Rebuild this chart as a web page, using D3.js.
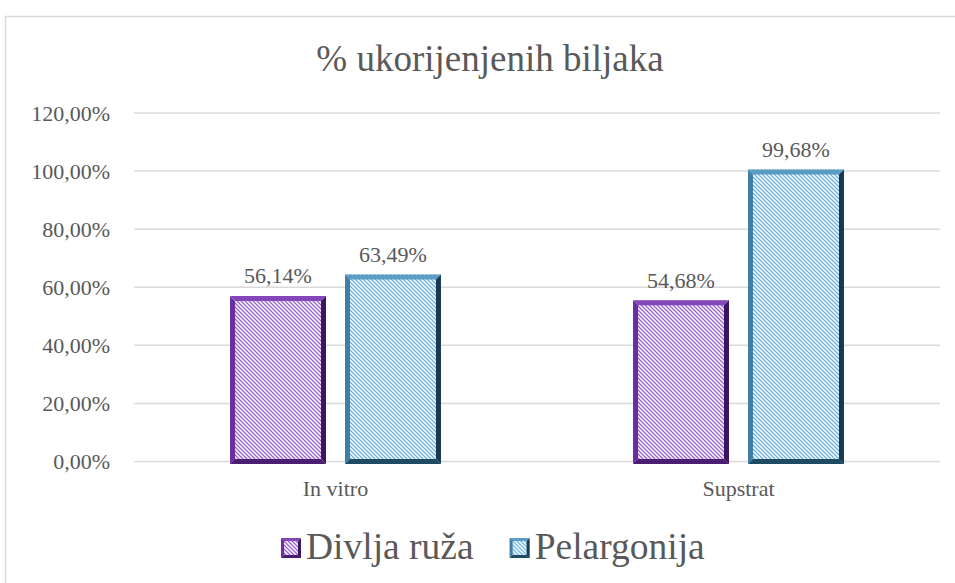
<!DOCTYPE html>
<html>
<head>
<meta charset="utf-8">
<script src="https://cdn.jsdelivr.net/npm/d3@7"></script>
<style>
  html, body { margin: 0; padding: 0; background: #fff; }
  svg { display: block; }
  text { font-family: "Liberation Serif", "Times New Roman", serif; fill: #595959; }
</style>
</head>
<body>
<div id="chart"></div>
<script>
// chart data
const categories = ['In vitro', 'Supstrat'];
const seriesNames = ['Divlja ruža', 'Pelargonija'];
const divljaRuza = [0.5614, 0.5468];
const pelargonija = [0.6349, 0.9968];
const yTicks = [0, 0.2, 0.4, 0.6, 0.8, 1.0, 1.2];
const chartTitle = '% ukorijenjenih biljaka';

const width = 955, height = 583;
const plot = { left: 134, right: 940, top: 113, bottom: 461.5 };

// colours per series: stripe, left, top, right, bottom edge
const palette = [
    { stripe: '#9c5fd4', left: '#6a2e9e', top: '#8447bb', right: '#3a1560', bottom: '#4a1c72' },
    { stripe: '#6cb2de', left: '#3f7fa6', top: '#5a9cc4', right: '#173a50', bottom: '#1f4a64' }
];

const fmt = v => (v * 100).toFixed(2).replace('.', ',') + '%';

const svg = d3.select('#chart')
    .append('svg')
    .attr('width', width)
    .attr('height', height);

// hatch patterns
const defs = svg.append('defs');
palette.forEach((p, i) => {
    const pat = defs.append('pattern')
        .attr('id', 'hatch' + i)
        .attr('patternUnits', 'userSpaceOnUse')
        .attr('width', 4)
        .attr('height', 4);
    pat.append('rect').attr('width', 4).attr('height', 4).attr('fill', '#fff');
    pat.append('path')
        .attr('d', 'M-1,-1 L5,5 M-1,3 L1,5 M3,-1 L5,1')
        .attr('stroke', p.stripe)
        .attr('stroke-width', 1.3);
});

// outer chart border
svg.append('rect')
    .attr('x', 5.5).attr('y', 16.5)
    .attr('width', width).attr('height', height)
    .attr('fill', 'none')
    .attr('stroke', '#d9d9d9')
    .attr('stroke-width', 1.5);

// title
svg.append('text')
    .attr('x', 490).attr('y', 71)
    .attr('text-anchor', 'middle')
    .style('font-size', '37px')
    .text(chartTitle);

// scales
const x0 = d3.scaleBand()
    .domain(categories)
    .range([plot.left, plot.right])
    .paddingInner(0.489)
    .paddingOuter(0.2445);

const x1 = d3.scaleBand()
    .domain(seriesNames)
    .range([0, x0.bandwidth()])
    .paddingInner(0.2087);

const y = d3.scaleLinear()
    .domain([0, 1.2])
    .range([plot.bottom, plot.top]);

// gridlines and y labels
const yAxis = svg.append('g').attr('class', 'y-axis');
yAxis.selectAll('line')
    .data(yTicks)
    .join('line')
    .attr('x1', plot.left).attr('x2', plot.right)
    .attr('y1', d => y(d)).attr('y2', d => y(d))
    .attr('stroke', '#d9d9d9')
    .attr('stroke-width', 1.5);
yAxis.selectAll('text')
    .data(yTicks)
    .join('text')
    .attr('x', 110)
    .attr('y', d => y(d))
    .attr('dy', '0.35em')
    .attr('text-anchor', 'end')
    .style('font-size', '22px')
    .text(fmt);

// category labels
svg.append('g').selectAll('text')
    .data(categories)
    .join('text')
    .attr('x', d => x0(d) + x0.bandwidth() / 2)
    .attr('y', 496)
    .attr('text-anchor', 'middle')
    .style('font-size', '22px')
    .text(d => d);

// bars
const rows = categories.map((c, i) => ({
    category: c,
    values: [divljaRuza[i], pelargonija[i]]
}));

const b = 5; // bevel width
const bars = [];
rows.forEach(r => {
    r.values.forEach((v, si) => {
        bars.push({ category: r.category, series: seriesNames[si], si, value: v });
    });
});

const barG = svg.append('g').attr('class', 'bars');
bars.forEach(d => {
    const xa = x0(d.category) + x1(d.series);
    const w = x1.bandwidth();
    const ya = y(d.value);
    const yb = y(0);
    // outer box, border drawn half outside the data edges
    const L = xa - b / 2, R = xa + w + b / 2, T = ya - b / 2, B = yb + b / 2;
    const p = palette[d.si];
    const g = barG.append('g');
    g.append('rect')
        .attr('x', L).attr('y', T)
        .attr('width', R - L).attr('height', B - T)
        .attr('fill', `url(#hatch${d.si})`);
    const faces = [
        { pts: [[L, T], [L + b, T + b], [L + b, B - b], [L, B]], c: p.left },
        { pts: [[R, T], [R, B], [R - b, B - b], [R - b, T + b]], c: p.right },
        { pts: [[L, B], [R, B], [R - b, B - b], [L + b, B - b]], c: p.bottom },
        { pts: [[L, T], [R, T], [R - b, T + b], [L + b, T + b]], c: p.top }
    ];
    g.selectAll('polygon')
        .data(faces)
        .join('polygon')
        .attr('points', f => f.pts.map(q => q.join(',')).join(' '))
        .attr('fill', f => f.c);
    // value label
    g.append('text')
        .attr('x', xa + w / 2)
        .attr('y', ya - 15)
        .attr('text-anchor', 'middle')
        .style('font-size', '22px')
        .text(fmt(d.value));
});

// legend
const legend = svg.append('g').attr('class', 'legend');
let lx = 281;
seriesNames.forEach((name, i) => {
    const p = palette[i];
    const s = 20, mb = 3;
    const g = legend.append('g').attr('transform', `translate(${lx},538)`);
    g.append('rect').attr('width', s).attr('height', s).attr('fill', `url(#hatch${i})`);
    const faces = [
        { pts: [[0, 0], [mb, mb], [mb, s - mb], [0, s]], c: p.left },
        { pts: [[s, 0], [s, s], [s - mb, s - mb], [s - mb, mb]], c: p.right },
        { pts: [[0, s], [s, s], [s - mb, s - mb], [mb, s - mb]], c: p.bottom },
        { pts: [[0, 0], [s, 0], [s - mb, mb], [mb, mb]], c: p.top }
    ];
    g.selectAll('polygon')
        .data(faces)
        .join('polygon')
        .attr('points', f => f.pts.map(q => q.join(',')).join(' '))
        .attr('fill', f => f.c);
    const t = g.append('text')
        .attr('x', s + 5)
        .attr('y', 21)
        .style('font-size', '37.5px')
        .text(name);
    lx += s + 5 + t.node().getComputedTextLength() + 36;
});
</script>
</body>
</html>
